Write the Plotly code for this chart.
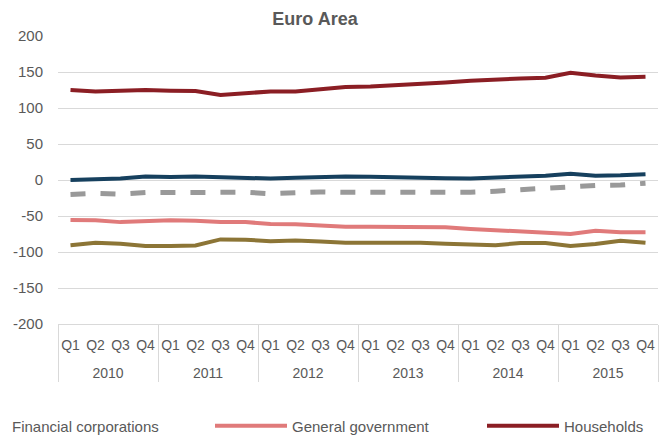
import plotly.graph_objects as go

years = [y for y in ["2010", "2011", "2012", "2013", "2014", "2015"] for _ in range(4)]
quarters = ["Q1", "Q2", "Q3", "Q4"] * 6

households = [125, 123, 124, 125, 124, 123.5, 118, 120, 123, 123, 126, 129,
              130, 131.5, 133, 135.5, 138, 140, 141, 142, 149, 145, 142.5, 143.5]
financial = [0, 1, 2, 5, 4, 5, 4, 3, 2, 3, 4, 5,
             4.5, 3.5, 2.5, 2.5, 2, 3, 5, 6, 8.5, 6, 6.5, 8]
total = [-20, -18.5, -19.5, -17.5, -17.5, -17.5, -16.5, -17, -19, -17, -16.5, -17,
         -17, -17.5, -17, -16.5, -17, -15.5, -13.5, -12, -8.5, -7.5, -7, -4.5]
general_gov = [-55.5, -56, -58.5, -57, -56, -56.5, -58.5, -58.5, -61, -61.5, -63.5, -65,
               -65, -65.5, -65.5, -65.5, -68, -69.5, -71, -72.5, -75, -70.5, -72.5, -72.5]
nonfin = [-90.5, -87, -88.5, -91.5, -91.5, -91, -82.5, -83, -85, -84, -85.5, -87,
          -87, -87, -87, -88.5, -90, -90.5, -87.5, -87.5, -91.5, -89, -84.5, -87]

y_ticks = [200, 150, 100, 50, 0, -50, -100, -150, -200]
y_labels = [str(v) for v in y_ticks]  # plain hyphen minus, as in the reference

# year labels pushed down one line, as in the reference
x = [["<br>" + y for y in years], quarters]
font = "Liberation Sans, Arial"
grey = "#595959"

fig = go.Figure()
fig.add_trace(go.Scatter(x=x, y=nonfin, mode="lines", line=dict(color="#8C7536", width=4),
                         name="Non-financial corporations", showlegend=False))
fig.add_trace(go.Scatter(x=x, y=total, mode="lines", line=dict(color="#999999", width=5, dash="dash"),
                         name="Total", showlegend=False))
fig.add_trace(go.Scatter(x=x, y=financial, mode="lines", line=dict(color="#16405E", width=4),
                         name="Financial corporations", showlegend=False))
fig.add_trace(go.Scatter(x=x, y=general_gov, mode="lines", line=dict(color="#E07A7A", width=4),
                         name="General government"))
fig.add_trace(go.Scatter(x=x, y=households, mode="lines", line=dict(color="#8B1E24", width=4),
                         name="Households"))

# first legend entry (its swatch is cut off at the left edge in the reference)
fig.add_annotation(text="Financial corporations", xref="paper", yref="paper",
                   x=-48 / 600, y=-102 / 288, xanchor="left", yanchor="middle", showarrow=False,
                   font=dict(size=15, color=grey))

# the page body adds an 8px offset, so margins are shifted by -8
fig.update_layout(
    width=670, height=435,
    margin=dict(l=50, r=20, t=28, b=119, autoexpand=False),
    paper_bgcolor="white", plot_bgcolor="white",
    font=dict(family=font, color=grey, size=15),
    title=dict(text="<b>Euro Area</b>", x=307 / 670, xref="container", xanchor="center",
               y=1 - 10.5 / 435, yanchor="middle", font=dict(size=18, color=grey)),
    legend=dict(orientation="h", x=(210 - 58) / 600, xanchor="left", y=-102 / 288, yanchor="middle",
                entrywidth=185, entrywidthmode="pixels", itemwidth=72,
                font=dict(size=15, color=grey), bgcolor="rgba(0,0,0,0)"),
    showlegend=True,
)
fig.update_yaxes(range=[-200, 200], tickmode="array", tickvals=y_ticks, ticktext=y_labels,
                 showgrid=True, gridcolor="#D9D9D9", gridwidth=1, automargin=False,
                 zeroline=False, ticks="", ticklabelstandoff=14, tickfont=dict(size=15))
fig.update_xaxes(type="multicategory", range=[-0.5, 23.5], showgrid=False, showline=True,
                 linecolor="#D9D9D9", showdividers=True, dividercolor="#D9D9D9", dividerwidth=1,
                 automargin=False, tickangle=0, ticklabelstandoff=8, tickfont=dict(size=14))

fig.write_html("out.html")
